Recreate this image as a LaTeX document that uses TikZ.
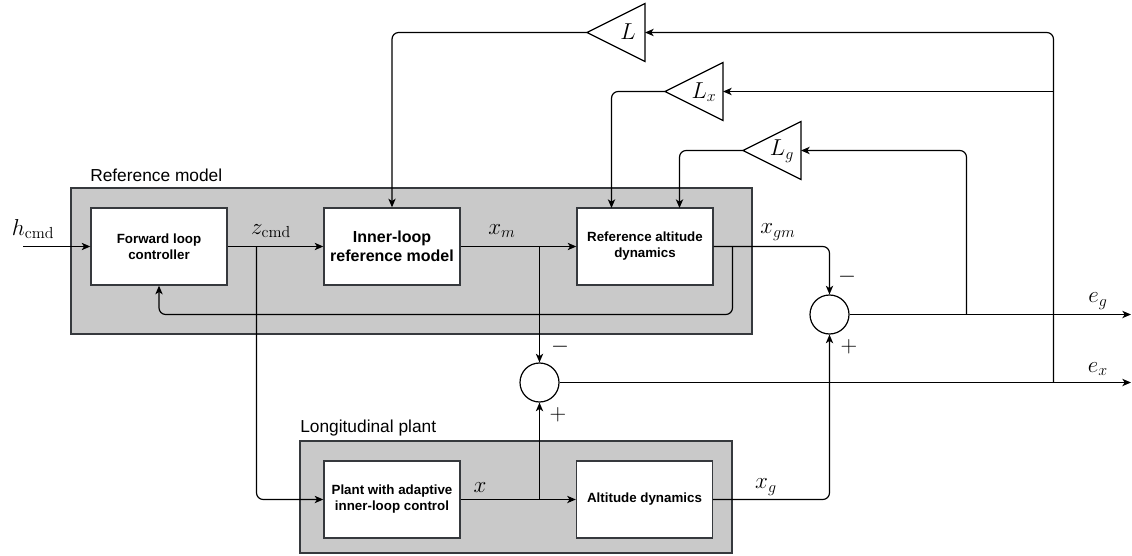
\documentclass[tikz,border=0pt]{standalone}
\usepackage[no-math]{fontspec}
\newfontfamily\arialf{Liberation Sans}
\usetikzlibrary{arrows.meta}
\definecolor{bggray}{RGB}{201,201,201}
\definecolor{edgegray}{RGB}{54,57,61}
\begin{document}
\begin{tikzpicture}[x=0.75pt,y=-0.75pt,
  conn/.style={line width=0.9pt,draw=black},
  arr/.style={conn,-{Stealth[length=6.5pt,width=5.5pt,inset=1.8pt]}},
  bgbox/.style={draw=edgegray,fill=bggray,line width=1pt,inner sep=0pt},
  blockbox/.style={draw=edgegray,fill=white,line width=1pt,inner sep=2pt,
    minimum width=102pt,minimum height=57.75pt,align=center,
    font=\arialf\bfseries\fontsize{10}{12}\selectfont},
  sumnode/.style={draw=black,fill=white,circle,line width=0.9pt,minimum size=29.25pt,inner sep=0pt},
  tri/.style={draw=black,fill=white,line width=0.9pt,line join=miter},
  mlab/.style={inner sep=0pt,font=\fontsize{17}{20}\selectfont},
  signlab/.style={inner sep=0pt,font=\fontsize{18}{20}\selectfont},
  grouplab/.style={inner sep=0pt,anchor=west,font=\arialf\fontsize{13}{15}\selectfont},
]
\useasboundingbox (0,0) rectangle (1132,556);

% background groups
\node[bgbox,minimum width=510.75pt,minimum height=109.5pt] (refbg) at (411.5,261) {};
\node[bgbox,minimum width=324pt,minimum height=84pt] (plantbg) at (516,497) {};
\node[grouplab] (reflab) at (90,175) {Reference model};
\node[grouplab] (plantlab) at (300,428) {Longitudinal plant};

% blocks
\node[blockbox] (fwd) at (159,246.5) {Forward loop\\controller};
\node[blockbox,font=\arialf\bfseries\fontsize{12}{14}\selectfont] (inner) at (392,246.5) {Inner-loop\\reference model};
\node[blockbox] (refalt) at (645,246.5) {Reference altitude\\dynamics};
\node[blockbox] (plantc) at (392,499.5) {Plant with adaptive\\inner-loop control};
\node[blockbox] (altdyn) at (644.5,499.5) {Altitude dynamics};

% summing junctions
\node[sumnode] (sum1) at (829.5,314.5) {};
\node[sumnode] (sum2) at (539.5,382.5) {};

% gain triangles
\coordinate (Lout) at (587,32.5);   \coordinate (Lin) at (645,32.5);
\coordinate (Lxout) at (665,91.5);  \coordinate (Lxin) at (723,91.5);
\coordinate (Lgout) at (743,150.5); \coordinate (Lgin) at (801,150.5);
\draw[tri] (Lout) -- (645,3.5) -- (645,61.5) -- cycle;
\draw[tri] (Lxout) -- (723,62.5) -- (723,120.5) -- cycle;
\draw[tri] (Lgout) -- (801,121.5) -- (801,179.5) -- cycle;
\node[mlab] (Llab) at (628,32) {$L$};
\node[mlab] (Lxlab) at (704,92) {$L_x$};
\node[mlab] (Lglab) at (782,151) {$L_g$};

% auxiliary points
\coordinate (hin) at (23,246.5);
\coordinate (zb) at (256.5,246.5);
\coordinate (xmb) at (539.5,246.5);
\coordinate (fb) at (732.5,246.5);
\coordinate (fbc) at (159,314.5);
\coordinate (xb) at (539.5,499.5);
\coordinate (egend) at (1131,314.5);
\coordinate (exend) at (1131,382.5);
\coordinate (egb) at (966.5,314.5);
\coordinate (exb) at (1053.5,382.5);
\coordinate (exm) at (1053.5,91.5);
\coordinate (ra1) at (611.5,208);
\coordinate (ra2) at (679.5,208);

% connectors
\draw[arr] (hin) -- (fwd.west);
\draw[arr] (fwd.east) -- (inner.west);
\draw[arr,rounded corners=5] (zb) |- (plantc.west);
\draw[arr] (inner.east) -- (refalt.west);
\draw[arr] (xmb) -- (sum2.north);
\draw[arr,rounded corners=5] (refalt.east) -| (sum1.north);
\draw[arr,rounded corners=5] (fb) |- (fbc) -- (fwd.south);
\draw[arr] (plantc.east) -- (altdyn.west);
\draw[arr] (xb) -- (sum2.south);
\draw[arr,rounded corners=5] (altdyn.east) -| (sum1.south);
\draw[arr] (sum1.east) -- (egend);
\draw[arr] (sum2.east) -- (exend);
\draw[arr,rounded corners=5] (egb) |- (Lgin);
\draw[arr,rounded corners=5] (exb) |- (Lin);
\draw[arr] (exm) -- (Lxin);
\draw[arr,rounded corners=5] (Lout) -| (inner.north);
\draw[arr,rounded corners=5] (Lxout) -| (ra1);
\draw[arr,rounded corners=5] (Lgout) -| (ra2);

% signal labels
\node[mlab] (hlab) at (33,229) {$h_{\mathrm{cmd}}$};
\node[mlab] (zlab) at (271,231) {$z_{\mathrm{cmd}}$};
\node[mlab] (xmlab) at (502,231) {$x_m$};
\node[mlab] (xgmlab) at (778,232) {$x_{gm}$};
\node[mlab] (xlab) at (480,488) {$x$};
\node[mlab] (xglab) at (766,487) {$x_g$};
\node[mlab] (eglab) at (1098,301) {$e_g$};
\node[mlab] (exlab) at (1098,369) {$e_x$};
\node[signlab] (m1) at (847,277) {$-$};
\node[signlab] (p1) at (849,347) {$+$};
\node[signlab] (m2) at (560,347) {$-$};
\node[signlab] (p2) at (558,415) {$+$};
\end{tikzpicture}
\end{document}
